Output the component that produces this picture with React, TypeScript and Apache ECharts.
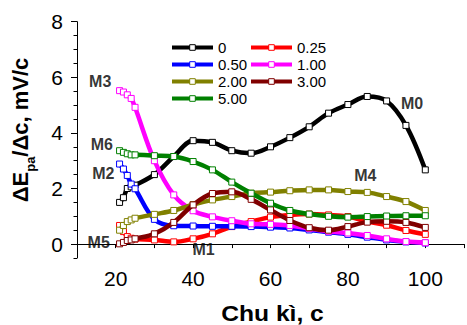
import React, { useEffect, useRef } from "react";
import * as echarts from "echarts";

const FONT = '"Liberation Sans", Arial, sans-serif';

const cycles = [21, 22, 23, 24, 25, 30, 35, 40, 45, 50, 55, 60, 65, 70, 75, 80, 85, 90, 95, 100];

const seriesNames = ["0", "0.25", "0.50", "1.00", "2.00", "3.00", "5.00"];
const seriesColors = ["#000000", "#ff0000", "#0000ff", "#ff00ff", "#808000", "#800000", "#008000"];

const s0 = [1.5, 1.67, 2.0, 2.06, 2.12, 2.5, 3.15, 3.72, 3.66, 3.36, 3.27, 3.5, 3.83, 4.22, 4.71, 5.02, 5.31, 5.15, 4.27, 2.67];
const s025 = [0.67, 0.45, 0.27, 0.21, 0.18, 0.15, 0.08, 0.19, 0.37, 0.63, 0.81, 0.97, 1.05, 1.08, 1.05, 0.99, 0.81, 0.68, 0.49, 0.35];
const s050 = [2.88, 2.7, 2.47, 2.16, 1.99, 0.89, 0.66, 0.65, 0.64, 0.64, 0.63, 0.61, 0.58, 0.51, 0.43, 0.35, 0.25, 0.15, 0.08, 0.04];
const s100 = [5.52, 5.47, 5.37, 5.24, 4.92, 3.0, 1.77, 1.2, 0.98, 0.84, 0.73, 0.71, 0.67, 0.56, 0.46, 0.4, 0.31, 0.19, 0.09, 0.05];
const s200 = [0.5, 0.67, 0.81, 0.87, 0.93, 1.07, 1.21, 1.42, 1.59, 1.71, 1.83, 1.87, 1.92, 1.95, 1.95, 1.89, 1.86, 1.71, 1.53, 1.21];
const s300 = [0.01, 0.06, 0.13, 0.15, 0.19, 0.37, 0.78, 1.41, 1.82, 1.88, 1.61, 1.23, 0.85, 0.59, 0.5, 0.63, 0.79, 0.82, 0.78, 0.6];
const s500 = [3.36, 3.3, 3.25, 3.21, 3.21, 3.18, 3.15, 2.97, 2.67, 2.23, 1.83, 1.47, 1.21, 1.08, 1.0, 0.97, 0.99, 1.01, 1.02, 1.02];

const seriesValues = [s0, s025, s050, s100, s200, s300, s500];

const annotations = [
  { label: "M0", x: 96.6, y: 5.04 },
  { label: "M1", x: 42.7, y: -0.2 },
  { label: "M2", x: 16.8, y: 2.53 },
  { label: "M3", x: 16.0, y: 5.85 },
  { label: "M4", x: 84.5, y: 2.47 },
  { label: "M5", x: 15.6, y: 0.04 },
  { label: "M6", x: 16.4, y: 3.6 },
];

const xTickLabels = [20, 40, 60, 80, 100];
const yTickLabels = [0, 2, 4, 6, 8];

export default function App() {
  const ref = useRef<HTMLDivElement>(null);
  useEffect(() => {
    if (!ref.current) return;
    const chart = echarts.init(ref.current, undefined, { renderer: "svg" });
    const gridLeft = 77;
    const gridTop = 21.7;
    const unitY = 27.8;
    const gridWidth = 393;

    const lineSeries = seriesNames.map((name, i) => ({
      name,
      type: "line",
      xAxisIndex: 0,
      yAxisIndex: 0,
      data: cycles.map((c, j) => [c, seriesValues[i][j]]),
      smooth: 0.35,
      symbol: "rect",
      symbolSize: 6,
      color: seriesColors[i],
      lineStyle: { color: seriesColors[i], width: 4.5 },
      itemStyle: { color: "#ffffff", borderColor: seriesColors[i], borderWidth: 1 },
      z: 2 + i,
    }));

    const legendBase = {
      orient: "vertical",
      top: 35,
      itemWidth: 41,
      itemHeight: 7,
      itemGap: 2,
      selectedMode: false,
      textStyle: { fontSize: 15, lineHeight: 15, color: "#000", fontFamily: FONT },
      lineStyle: { width: 4 },
      itemStyle: { borderWidth: 1 },
    };

    chart.setOption({
      animation: false,
      textStyle: { fontFamily: FONT },
      grid: [
        { left: gridLeft, top: gridTop, width: gridWidth, height: unitY * 8.5 },
        { left: gridLeft, top: gridTop, width: gridWidth, height: unitY * 8 },
      ],
      xAxis: [
        {
          type: "value",
          gridIndex: 0,
          min: 10,
          max: 110,
          interval: 10,
          splitLine: { show: false },
          axisLine: { show: true, lineStyle: { color: "#000", width: 1 } },
          axisTick: { show: true, inside: false, length: 4, lineStyle: { color: "#000" } },
          axisLabel: {
            fontSize: 21,
            color: "#000",
            margin: 10,
            fontFamily: FONT,
            formatter: (v: number) => (xTickLabels.includes(v) ? String(v) : ""),
          },
        },
        { type: "value", gridIndex: 1, min: 10, max: 110, show: false },
      ],
      yAxis: [
        {
          type: "value",
          gridIndex: 0,
          min: -0.5,
          max: 8,
          interval: 0.5,
          splitLine: { show: false },
          axisLine: { show: true, lineStyle: { color: "#000", width: 1 } },
          axisTick: { show: true, inside: false, length: 3.5, lineStyle: { color: "#000" } },
          axisLabel: { show: false },
        },
        {
          type: "value",
          gridIndex: 1,
          min: 0,
          max: 8,
          interval: 2,
          splitLine: { show: false },
          axisLine: { show: false },
          axisTick: { show: true, inside: false, length: 6, lineStyle: { color: "#000" } },
          axisLabel: {
            fontSize: 21,
            color: "#000",
            margin: 14,
            fontFamily: FONT,
            formatter: (v: number) => (yTickLabels.includes(v) ? String(v) : ""),
          },
        },
      ],
      legend: [
        { ...legendBase, left: 165, data: ["0", "0.50", "2.00", "5.00"] },
        { ...legendBase, left: 244, data: ["0.25", "1.00", "3.00"] },
      ],
      series: [
        ...lineSeries,
        {
          name: "annotations",
          type: "scatter",
          xAxisIndex: 0,
          yAxisIndex: 0,
          symbolSize: 1,
          itemStyle: { color: "transparent" },
          silent: true,
          z: 20,
          data: annotations.map((a) => ({ name: a.label, value: [a.x, a.y] })),
          label: {
            show: true,
            position: "inside",
            formatter: "{b}",
            fontSize: 16,
            fontWeight: "bold",
            color: "#000",
            fontFamily: FONT,
          },
        },
      ],
      graphic: [
        {
          type: "text",
          x: 20,
          y: 130,
          rotation: Math.PI / 2,
          style: {
            text: "{a|ΔE}{b|pa}{a|/Δc, mV/c}",
            align: "center",
            verticalAlign: "middle",
            fill: "#000",
            rich: {
              a: { fontSize: 22, fontWeight: "bold", fontFamily: FONT, lineHeight: 34, fill: "#000" },
              b: { fontSize: 13, fontWeight: "bold", fontFamily: FONT, lineHeight: 14, verticalAlign: "bottom", fill: "#000" },
            },
          },
        },
        {
          type: "text",
          x: 272.5,
          y: 313,
          scaleX: 1.12,
          style: {
            text: "Chu kì, c",
            align: "center",
            verticalAlign: "middle",
            fontSize: 22,
            fontWeight: "bold",
            fontFamily: FONT,
            fill: "#000",
          },
        },
      ],
    });
    return () => chart.dispose();
  }, []);
  return (
    <div
      ref={ref}
      style={{ position: "absolute", left: 0, top: 0, width: 467, height: 325, background: "#fff" }}
    />
  );
}
